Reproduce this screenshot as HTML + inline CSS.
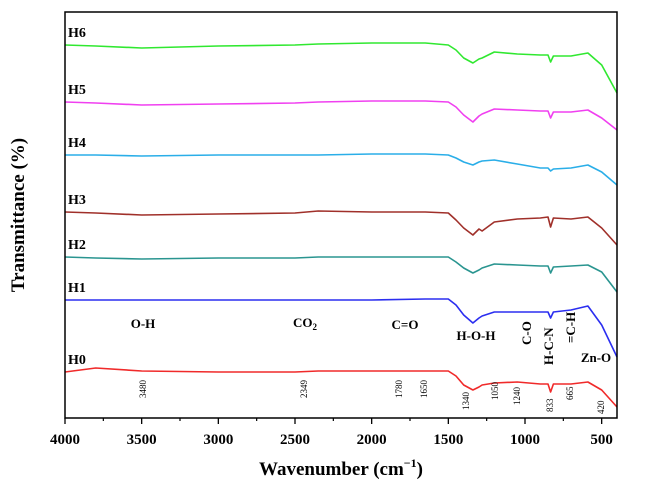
<!DOCTYPE html>
<html><head><meta charset="utf-8"><style>
body{margin:0;background:#fff}
svg{display:block;font-family:"Liberation Serif",serif}
</style></head><body>
<svg id="c" width="647" height="491" viewBox="0 0 647 491"></svg>
<script>
const wavenumbers=[4000,3800,3500,3000,2500,2349,2000,1650,1500,1450,1400,1340,1300,1280,1200,1050,900,850,833,815,700,590,500,400];
const seriesNames=["H0","H1","H2","H3","H4","H5","H6"];
const seriesColors=["#f02a2a","#2b2ef0","#2a9590","#a0302a","#2aaee8","#f040f0","#30e830"];
const h0=[46,50,47,46,46,47,47,47,47,42,33,28,31,33,35,36,34,34,26,34,34,36,28,11];
const h1=[118,118,118,118,118,118,118,119,119,113,103,95,100,102,106,106,106,106,100,106,108,112,93,61];
const h2=[161,160,159,160,160,161,161,161,161,156,150,145,148,150,154,153,152,152,145,151,152,153,146,126];
const h3=[206,205,203,204,205,207,206,206,205,198,190,183,189,187,196,199,200,201,191,200,199,201,190,173];
const h4=[263,263,262,263,263,263,264,264,263,260,256,253,256,257,258,254,250,250,247,249,250,253,246,233];
const h5=[316,315,313,314,315,316,317,317,316,311,303,296,302,304,309,308,307,307,300,306,306,308,300,288];
const h6=[373,372,370,372,373,374,375,375,373,368,360,355,359,360,366,364,363,363,356,362,362,365,353,325];
const xTicks=[4000,3500,3000,2500,2000,1500,1000,500];
const peakLabels=["3480","2349","1780","1650","1340","1050","1240","833","665","420"];

const NS="http://www.w3.org/2000/svg";
const svg=document.getElementById('c');
const L=65,R=617,T=12,B=418;
const x=w=>L+(4000-w)/(4000-400)*(R-L);
const y=v=>B-v;
function mk(tag,attrs,parent){const e=document.createElementNS(NS,tag);for(const k in attrs)e.setAttribute(k,attrs[k]);(parent||svg).appendChild(e);return e;}

const all=[h0,h1,h2,h3,h4,h5,h6];
all.forEach((s,i)=>{
  const p=mk('polyline',{points:s.map((v,j)=>x(wavenumbers[j]).toFixed(1)+','+y(v).toFixed(1)).join(' '),fill:'none',stroke:seriesColors[i],'stroke-width':1.6,'stroke-linejoin':'round'});
  
  
  const t=mk('text',{x:68,y:y(s[0])-8,'font-size':14,'font-weight':'bold'});
  t.textContent=seriesNames[i];
  
  
});

const frame=mk('rect',{x:L,y:T,width:R-L,height:B-T,fill:'none',stroke:'#000','stroke-width':1.5});



xTicks.forEach(w=>{
  const tk=mk('line',{x1:x(w),x2:x(w),y1:B,y2:B+6,stroke:'#000','stroke-width':1.3});
  
  
  const tl=mk('text',{x:x(w),y:B+26,'font-size':15,'font-weight':'bold','text-anchor':'middle'});
  tl.textContent=w;
  
  
  if(w>500){
    const m=mk('line',{x1:x(w-250),x2:x(w-250),y1:B,y2:B+3,stroke:'#000','stroke-width':1.2});
    
    
  }
});

const peakX=[146,307,402,427,469,498,520,553,573,604];
const peakY=[398,398,398,398,410,400,405,412,400,414];
peakLabels.forEach((s,i)=>{
  const t=mk('text',{transform:`translate(${peakX[i]},${peakY[i]}) rotate(-90)`,'font-size':9});
  t.textContent=s;
  
  
});

function lab(txt,xx,yy,rot,name){
  const t=mk('text',{transform:`translate(${xx},${yy})`+(rot?' rotate(-90)':''),'font-size':13,'font-weight':'bold','text-anchor':rot?'start':'middle'});
  t.textContent=txt;return t;
}
lab('O-H',143,328,false,'band-oh');
const co2=lab('CO',305,327,false,'band-co2');
const sub=mk('tspan',{'font-size':9,dy:3},co2);sub.textContent='2';
lab('C=O',405,329,false,'band-c-o-double');
lab('H-O-H',476,340,false,'band-h-o-h');
lab('C-O',531,345,true,'band-c-o');
lab('H-C-N',553,365,true,'band-h-c-n');
lab('=C-H',575,343,true,'band-c-h');
lab('Zn-O',596,362,false,'band-zn-o');

const xt=mk('text',{x:341,y:475,'font-size':19,'font-weight':'bold','text-anchor':'middle'});
xt.innerHTML='Wavenumber (cm<tspan font-size="12" dy="-8">−1</tspan><tspan dy="8">)</tspan>';


const yt=mk('text',{transform:'translate(24,215) rotate(-90)','font-size':19,'font-weight':'bold','text-anchor':'middle'});
yt.textContent='Transmittance (%)';


</script>
</body></html>
